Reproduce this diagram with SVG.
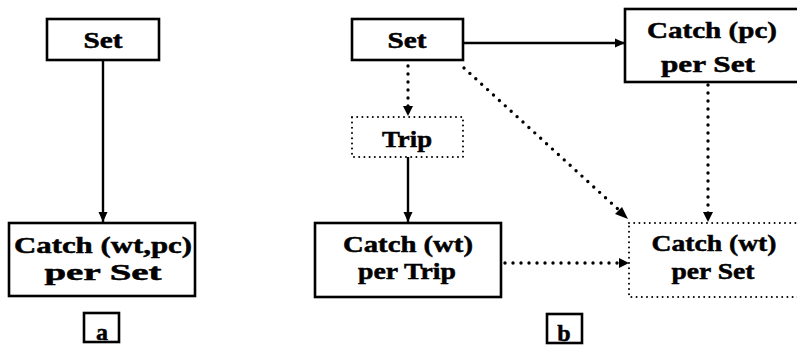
<svg xmlns="http://www.w3.org/2000/svg" width="797" height="347" viewBox="0 0 797 347">
<defs>
<style>
.box{fill:#fff;stroke:#000;stroke-width:2.6}
.dbox{fill:#fff;stroke:#000;stroke-width:2;stroke-dasharray:0 5.2;stroke-linecap:round}
.t{font-family:"Liberation Serif","Times New Roman",Times,serif;font-weight:700;font-size:24px;fill:#000;text-anchor:middle;stroke:#000;stroke-width:0.5}
.solid{stroke:#000;stroke-width:2.4;fill:none}
.dot{stroke:#000;stroke-width:3.4;fill:none;stroke-dasharray:0 8;stroke-linecap:round}
</style>
<marker id="ah" viewBox="0 0 10 10" refX="10" refY="5" markerWidth="10" markerHeight="10" markerUnits="userSpaceOnUse" orient="auto">
<path d="M0,0.5 L10,5 L0,9.5 Z" fill="#000"/>
</marker>
</defs>
<rect width="797" height="347" fill="#fff"/>
<g id="connectors">
<line class="solid" x1="103" y1="60" x2="103" y2="222" marker-end="url(#ah)"/>
<line class="solid" x1="463" y1="43" x2="625" y2="43" marker-end="url(#ah)"/>
<line class="dot" x1="408" y1="66" x2="408" y2="109"/>
<path d="M403,106 L413,106 L408,116 Z" fill="#000"/>
<line class="solid" x1="408" y1="157" x2="408" y2="222" marker-end="url(#ah)"/>
<line class="dot" x1="464" y1="68" x2="620" y2="211"/>
<path d="M628,219 L615,214 L622,207 Z" fill="#000"/>
<line class="dot" x1="708" y1="85" x2="708" y2="214"/>
<path d="M703,212 L713,212 L708,222 Z" fill="#000"/>
<line class="dot" x1="505" y1="263" x2="620" y2="263"/>
<path d="M619,258 L629,263 L619,268 Z" fill="#000"/>
</g>
<g id="setA">
<rect class="box" x="47" y="19" width="112" height="41"/>
<text class="t" x="103" y="48" font-size="25.5" textLength="39" lengthAdjust="spacingAndGlyphs">Set</text>
</g>
<g id="catchA">
<rect class="box" x="9" y="223" width="186" height="73"/>
<text class="t" x="103" y="253" textLength="178" lengthAdjust="spacingAndGlyphs">Catch (wt,pc)</text>
<text class="t" x="103" y="280" textLength="117" lengthAdjust="spacingAndGlyphs">per Set</text>
</g>
<g id="labelA">
<rect class="box" x="84" y="313" width="35" height="29" stroke-width="2"/>
<text class="t" x="102" y="340" font-size="24">a</text>
</g>
<g id="setB">
<rect class="box" x="352" y="19" width="111" height="41"/>
<text class="t" x="407" y="48" font-size="25.5" textLength="39" lengthAdjust="spacingAndGlyphs">Set</text>
</g>
<g id="trip">
<rect class="dbox" x="352" y="117" width="111" height="40"/>
<text class="t" x="407" y="147" font-size="25.5" textLength="50" lengthAdjust="spacingAndGlyphs">Trip</text>
</g>
<g id="catchPc">
<rect class="box" x="625" y="9" width="180" height="73"/>
<text class="t" x="712" y="38" textLength="130" lengthAdjust="spacingAndGlyphs">Catch (pc)</text>
<text class="t" x="708" y="72" textLength="94" lengthAdjust="spacingAndGlyphs">per Set</text>
</g>
<g id="catchTrip">
<rect class="box" x="315" y="223" width="186" height="74"/>
<text class="t" x="408" y="252" textLength="130" lengthAdjust="spacingAndGlyphs">Catch (wt)</text>
<text class="t" x="407" y="279" textLength="98" lengthAdjust="spacingAndGlyphs">per Trip</text>
</g>
<g id="catchSet">
<rect class="dbox" x="629" y="223" width="180" height="74"/>
<text class="t" x="714" y="251" textLength="125" lengthAdjust="spacingAndGlyphs">Catch (wt)</text>
<text class="t" x="713" y="279" textLength="83" lengthAdjust="spacingAndGlyphs">per Set</text>
</g>
<g id="labelB">
<rect class="box" x="547" y="314" width="35" height="29" stroke-width="2"/>
<text class="t" x="564" y="341" font-size="26">b</text>
</g>
</svg>
